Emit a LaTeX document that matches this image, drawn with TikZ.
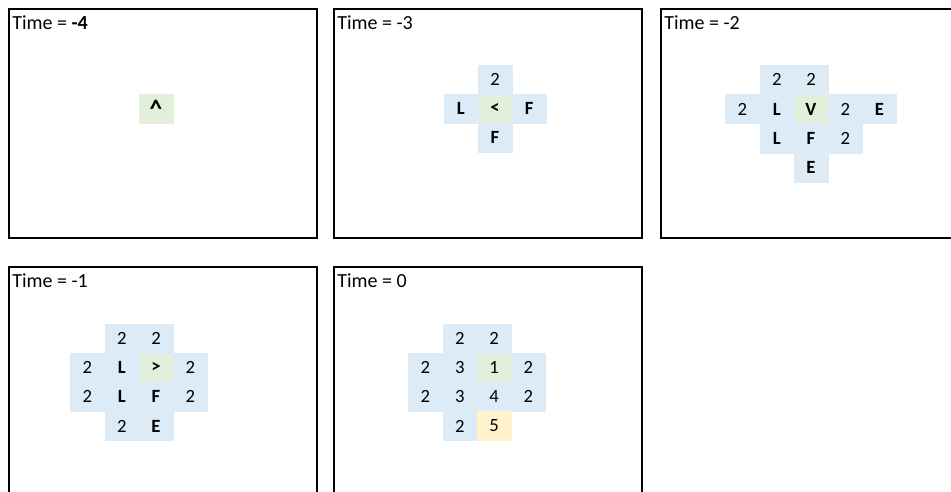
\documentclass[tikz,border=0pt]{standalone}
\usepackage{fontspec}
\setmainfont{Carlito}
\usetikzlibrary{
    positioning
}
\definecolor{cellblue}{HTML}{DDEBF7}
\definecolor{cellgreen}{HTML}{E2EFDA}
\definecolor{cellyellow}{HTML}{FFF2CC}

\begin{document}
\begin{tikzpicture}[
x=0.75pt, y=-0.75pt,
node distance=0pt,
panel/.style={
draw,
line width=1.2pt,
anchor=north west,
minimum width=231pt,
minimum height=171.75pt,
inner sep=0pt
},
title/.style={
anchor=north west,
inner sep=0pt,
font=\fontsize{15}{17}\selectfont
},
numcell/.style={
fill=cellblue,
draw=cellblue,
line width=0.2pt,
minimum width=25.5pt,
minimum height=21.75pt,
inner sep=0pt,
font=\fontsize{14}{16}\selectfont
},
letcell/.style={
numcell,
font=\fontsize{14}{16}\selectfont\bfseries
},
shipcell/.style={
letcell,
fill=cellgreen,
draw=cellgreen
},
shipnum/.style={
numcell,
fill=cellgreen,
draw=cellgreen
},
endcell/.style={
numcell,
fill=cellyellow,
draw=cellyellow
}
]

\clip (0,0) rectangle (951,492);

% panels
\node[panel] (box1) at (8,8) {};
\node[panel] (box2) at (333,8) {};
\node[panel] (box3) at (660,8) {};
\node[panel] (box4) at (8,266) {};
\node[panel] (box5) at (333,266) {};

\node[title, below right=5.5pt and 3pt of box1.north west] (title1)
{Time = \textbf{-4}};
\node[title, below right=5.5pt and 3pt of box2.north west] (title2)
{Time = -3};
\node[title, below right=5.5pt and 3pt of box3.north west] (title3)
{Time = -2};
\node[title, below right=5.5pt and 3pt of box4.north west] (title4)
{Time = -1};
\node[title, below right=5.5pt and 3pt of box5.north west] (title5)
{Time = 0};

% time -4
\node[shipcell, font=\fontsize{19}{19}\selectfont\bfseries] (ship1) at (156,108.5)
{\raisebox{-0.6ex}{\textasciicircum}};

% time -3
\node[shipcell] (ship2) at (495,108.5) {<};
\node[numcell, above=of ship2] (up2) {2};
\node[letcell, left=of ship2] (left2) {L};
\node[letcell, right=of ship2] (right2) {F};
\node[letcell, below=of ship2] (down2) {F};

% time -2
\node[shipcell] (ship3) at (811,109) {V};
\node[letcell, left=of ship3] (left3) {L};
\node[numcell, left=of left3] (farleft3) {2};
\node[numcell, right=of ship3] (right3) {2};
\node[letcell, right=of right3] (farright3) {E};
\node[numcell, above=of left3] (upleft3) {2};
\node[numcell, above=of ship3] (up3) {2};
\node[letcell, below=of left3] (downleft3) {L};
\node[letcell, below=of ship3] (down3) {F};
\node[numcell, below=of right3] (downright3) {2};
\node[letcell, below=of down3] (bottom3) {E};

% time -1
\node[shipcell] (ship4) at (156,367.5) {>};
\node[letcell, left=of ship4] (left4) {L};
\node[numcell, left=of left4] (farleft4) {2};
\node[numcell, right=of ship4] (right4) {2};
\node[numcell, above=of left4] (upleft4) {2};
\node[numcell, above=of ship4] (up4) {2};
\node[numcell, below=of farleft4] (downfarleft4) {2};
\node[letcell, below=of left4] (downleft4) {L};
\node[letcell, below=of ship4] (down4) {F};
\node[numcell, below=of right4] (downright4) {2};
\node[numcell, below=of downleft4] (bottomleft4) {2};
\node[letcell, below=of down4] (bottom4) {E};

% time 0
\node[shipnum] (ship5) at (494,367.5) {1};
\node[numcell, left=of ship5] (left5) {3};
\node[numcell, left=of left5] (farleft5) {2};
\node[numcell, right=of ship5] (right5) {2};
\node[numcell, above=of left5] (upleft5) {2};
\node[numcell, above=of ship5] (up5) {2};
\node[numcell, below=of farleft5] (downfarleft5) {2};
\node[numcell, below=of left5] (downleft5) {3};
\node[numcell, below=of ship5] (down5) {4};
\node[numcell, below=of right5] (downright5) {2};
\node[numcell, below=of downleft5] (bottomleft5) {2};
\node[endcell, below=of down5] (bottom5) {5};

\end{tikzpicture}
\end{document}
